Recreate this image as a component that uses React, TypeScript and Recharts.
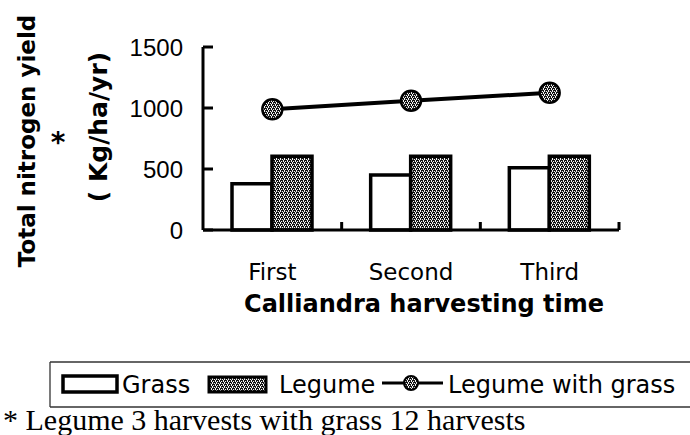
import React from 'react';
import { ComposedChart, Bar, Line, XAxis, YAxis, Legend } from 'recharts';

const categories = ['First', 'Second', 'Third'];
const grassValues = [380, 450, 510];
const legumeValues = [605, 605, 605];
const mixedValues = [990, 1060, 1125];
const yTicks = [0, 500, 1000, 1500];
const seriesNames = ['Grass', 'Legume', 'Legume with grass'];
const xTitle = 'Calliandra harvesting time';
const yTitle = 'Total nitrogen yield';
const yUnits = '( Kg/ha/yr)';
const footnote = '* Legume 3 harvests with grass 12 harvests';

const W = 690;
const H = 435;
const MARGIN = { top: 47, right: 71, left: 0, bottom: 145 };
const Y_AXIS_W = 203;
const X_AXIS_H = 60;
const PLOT_W = W - MARGIN.left - MARGIN.right - Y_AXIS_W;
const BAND = PLOT_W / categories.length;

const data = categories.map((c, i) => ({
  cat: c,
  grass: grassValues[i],
  legume: legumeValues[i],
  mixed: mixedValues[i],
}));

const SANS = '"DejaVu Sans", sans-serif';
const ARIAL = '"Liberation Sans", Arial, sans-serif';

const PatternDef = ({ id }: { id: string }) => (
  <pattern id={id} width={4} height={4} patternUnits="userSpaceOnUse">
    <rect x={0} y={0} width={4} height={4} fill="#f4f4f4" />
    <rect x={0} y={0} width={3} height={1} fill="#111" />
    <rect x={0} y={1} width={1} height={1} fill="#111" />
    <rect x={2} y={1} width={1} height={1} fill="#222" />
    <rect x={1} y={2} width={3} height={1} fill="#111" />
    <rect x={3} y={3} width={1} height={1} fill="#222" />
    <rect x={1} y={3} width={1} height={1} fill="#333" />
  </pattern>
);

const YTick = (props: any) => {
  const { x, y, payload } = props;
  return (
    <g>
      <line x1={x} x2={x + 10} y1={y} y2={y} stroke="#000" strokeWidth={3} />
      <text x={x - 20} y={y} dy={8.5} textAnchor="end" fontFamily={ARIAL} fontSize={24} fill="#000">
        {payload.value}
      </text>
    </g>
  );
};

const XTick = (props: any) => {
  const { x, y, payload } = props;
  return (
    <g>
      <text x={x} y={y + 50} textAnchor="middle" fontFamily={SANS} fontSize={23} fill="#000">
        {payload.value}
      </text>
      <line x1={x + BAND / 2} x2={x + BAND / 2} y1={y} y2={y - 8} stroke="#000" strokeWidth={3} />
    </g>
  );
};

const renderDot = (props: any) => {
  const { cx, cy, index } = props;
  return (
    <g key={`dot-${index}`}>
      <circle cx={cx} cy={cy} r={10} fill="url(#legumePat)" stroke="#000" strokeWidth={2.5} />
    </g>
  );
};

const YTitle = () => (
  <g>
    <text
      x={35}
      y={141}
      transform="rotate(-90, 35, 141)"
      textAnchor="middle"
      fontFamily={SANS}
      fontWeight="bold"
      fontSize={23}
      fill="#000"
    >
      {yTitle}
    </text>
    <text x={58} y={152} textAnchor="middle" fontFamily={SANS} fontWeight="bold" fontSize={28} fill="#000">
      *
    </text>
    <text
      x={107}
      y={127}
      transform="rotate(-90, 107, 127)"
      textAnchor="middle"
      fontFamily={SANS}
      fontWeight="bold"
      fontSize={25}
      fill="#000"
    >
      {yUnits}
    </text>
  </g>
);

const XTitle = () => (
  <text x={424} y={312} textAnchor="middle" fontFamily={SANS} fontWeight="bold" fontSize={24} fill="#000">
    {xTitle}
  </text>
);

const LegendBox = () => (
  <svg width={W} height={H} style={{ display: 'block' }}>
    <defs>
      <PatternDef id="legumePatLegend" />
    </defs>
    <line x1={50} x2={W} y1={362} y2={362} stroke="#333" strokeWidth={1.3} />
    <line x1={50} x2={W} y1={407} y2={407} stroke="#333" strokeWidth={1.3} />
    <line x1={50} x2={50} y1={362} y2={407} stroke="#333" strokeWidth={1.3} />
    <rect x={63} y={376} width={54} height={16} fill="#fff" stroke="#000" strokeWidth={3.5} />
    <text x={122} y={393} fontFamily={SANS} fontSize={24} fill="#000">{seriesNames[0]}</text>
    <rect x={209} y={377} width={57} height={15} fill="url(#legumePatLegend)" stroke="#000" strokeWidth={3} />
    <text x={279} y={393} fontFamily={SANS} fontSize={24} fill="#000">{seriesNames[1]}</text>
    <line x1={382} x2={443} y1={383} y2={383} stroke="#000" strokeWidth={3} />
    <circle cx={411} cy={383} r={7} fill="url(#legumePatLegend)" stroke="#000" strokeWidth={2} />
    <text x={448} y={393} fontFamily={SANS} fontSize={24} fill="#000">{seriesNames[2]}</text>
    <text x={3} y={430} fontFamily={'"Liberation Serif", "Times New Roman", serif'} fontSize={30} fill="#000">
      {footnote}
    </text>
  </svg>
);

export default function App() {
  return (
    <div style={{ position: 'absolute', left: 0, top: 0, width: W, height: H, background: '#fff' }}>
      <ComposedChart width={W} height={H} data={data} margin={MARGIN} barGap={0} barCategoryGap="21%">
        <defs>
          <PatternDef id="legumePat" />
        </defs>
        <XAxis
          dataKey="cat"
          height={X_AXIS_H}
          axisLine={{ stroke: '#000', strokeWidth: 3 }}
          tickLine={false}
          tickSize={0}
          tickMargin={0}
          interval={0}
          tick={XTick}
          label={{ content: () => <XTitle /> }}
        />
        <YAxis
          width={Y_AXIS_W}
          domain={[0, 1500]}
          ticks={yTicks}
          interval={0}
          axisLine={{ stroke: '#000', strokeWidth: 3 }}
          tickLine={false}
          tickSize={0}
          tickMargin={0}
          tick={YTick}
          label={{ content: () => <YTitle /> }}
        />
        <Bar dataKey="grass" name={seriesNames[0]} fill="#fff" stroke="#000" strokeWidth={3.5} barSize={40} isAnimationActive={false} />
        <Bar dataKey="legume" name={seriesNames[1]} fill="url(#legumePat)" stroke="#000" strokeWidth={3.5} barSize={40} isAnimationActive={false} />
        <Line
          dataKey="mixed"
          name={seriesNames[2]}
          type="linear"
          stroke="#000"
          strokeWidth={4}
          dot={renderDot}
          activeDot={false}
          isAnimationActive={false}
        />
        <Legend
          verticalAlign="middle"
          align="center"
          layout="horizontal"
          wrapperStyle={{ left: 0, top: 0, width: W, height: H, pointerEvents: 'none' }}
          content={() => <LegendBox />}
        />
      </ComposedChart>
    </div>
  );
}
